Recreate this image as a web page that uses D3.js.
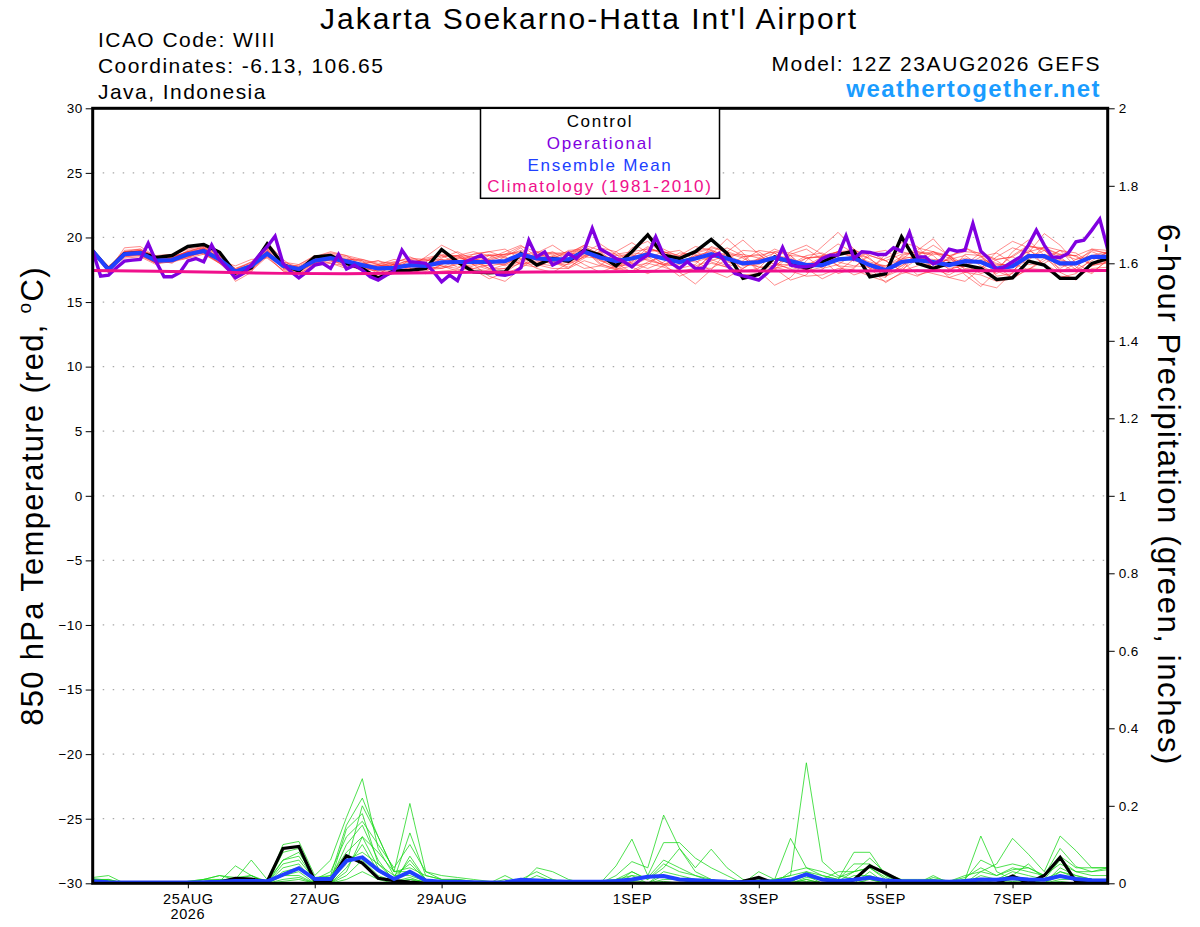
<!DOCTYPE html>
<html>
<head>
<meta charset="utf-8">
<script src="https://d3js.org/d3.v7.min.js"></script>
<style>
  body { margin: 0; background: #fff; }
  text { font-family: "Liberation Sans", Arial, Helvetica, sans-serif; }
</style>
</head>
<body>
<script>
// ---- data (6-hourly from 23AUG2026 12Z unless noted) ----
var startTime = Date.UTC(2026, 7, 23, 12);

var controlTemp = [18.95,17.55,18.75,18.8,18.45, 18.6,19.3,19.45,18.85,17.25, 17.65,19.5,17.9,17.4,18.5,
  18.6,18.0,17.6,16.85,17.4, 17.45,17.6,19.07,18.12,17.34, 17.26,17.34,18.76,17.86,18.37,
  18.17,19.02,18.63,17.8,18.9, 20.2,18.63,18.37,18.9,19.85, 18.76,16.83,17.14,18.5,18.1,
  17.6,18.1,18.68,18.94,16.96, 17.2,20.05,17.99,17.6,17.99, 17.86,17.6,16.75,16.88,18.17,
  17.86,16.83,16.83,17.99,18.37];

var meanTemp = [18.95,17.5,18.7,18.8,18.2, 18.25,18.7,18.95,18.3,17.35, 17.8,18.75,17.8,17.55,18.2,
  18.4,18.15,17.86,17.6,17.65, 17.86,17.8,18.07,18.1,18.1, 18.1,18.17,18.68,18.37,18.3,
  18.3,18.9,18.45,18.17,18.37, 18.68,18.37,18.1,18.37,18.7, 18.37,17.99,18.1,18.43,18.17,
  17.86,17.86,18.3,18.4,17.86, 17.47,18.1,18.25,18.1,17.86, 18.17,18.1,17.6,17.78,18.55,
  18.55,17.99,17.99,18.5,18.5];

// operational run is 3-hourly
var operTemp = [18.94,17.01,17.08,17.65,18.17, 18.25,18.30,19.54,18.12,16.96, 16.96,17.29,18.19,18.37,18.12,
  19.41,18.25,17.60,16.88,17.21, 17.86,18.63,19.28,20.10,17.99, 17.34,16.88,17.34,17.86,17.99,
  17.60,18.68,17.55,17.86,17.47, 16.96,16.70,17.08,17.39,19.02, 18.12,18.07,17.99,17.34,16.57,
  17.08,16.65,18.12,18.37,18.63, 17.99,17.14,17.08,17.21,17.65, 19.79,18.50,18.89,17.86,18.17,
  18.76,18.37,19.02,20.70,19.10, 18.76,18.37,18.12,17.73,18.25, 18.63,20.05,18.63,17.99,17.60,
  18.12,17.60,17.60,18.50,18.76, 17.86,17.21,17.03,16.88,16.70, 17.21,17.86,19.23,17.86,17.73,
  17.73,17.86,18.37,18.63,18.63, 20.13,18.37,18.89,18.84,18.68, 18.68,19.20,18.94,20.39,18.50,
  18.50,17.94,18.25,19.10,18.94, 19.02,21.08,18.94,18.37,17.47, 17.73,18.12,18.50,19.41,20.57,
  19.41,18.50,18.45,18.76,19.66, 19.79,20.57,21.42,19.10];

// climatology, daily (every 4th 6-hour step)
var climTemp = [17.45,17.38,17.30,17.22,17.20,17.25,17.30,17.32,17.34,17.38,17.40,17.40,17.40,17.42,17.43,17.43,17.44];

var memberTemp1 = [19.0,17.3,18.9,19.1,18.4,18.5,18.9,19.3,18.6,17.2,17.6,19.1,17.6,17.3,18.0,18.7,18.5,18.2,17.3,17.4,18.3,18.2,18.6,18.0,17.6,17.9,18.5,19.2,18.0,17.8,18.7,19.4,18.2,17.7,18.1,19.2,18.8,17.6,17.9,19.3,18.9,17.4,17.6,18.9,18.6,17.3,17.5,18.8,19.0,17.2,16.9,18.6,18.9,17.6,17.3,18.7,18.6,17.0,17.2,19.3,19.1,17.4,17.6,19.0,18.8];
var memberTemp2 = [18.9,17.7,18.5,18.6,18.0,18.1,18.6,18.8,18.0,17.5,18.1,18.5,17.9,17.8,18.4,18.2,17.9,17.5,17.8,18.1,17.6,17.4,17.9,18.4,18.5,18.3,17.8,18.3,18.8,18.7,18.0,18.5,18.9,18.6,18.7,18.2,17.9,18.5,18.9,18.3,17.8,18.5,18.7,17.9,17.6,18.4,18.5,17.8,17.7,18.6,18.2,17.4,17.8,18.8,18.6,17.6,17.5,18.3,18.5,17.9,18.0,18.7,18.6,17.8,18.1];
var memberTemp3 = [19.1,17.4,19.2,19.3,18.5,18.2,18.4,19.1,18.5,16.9,17.5,18.6,17.4,17.5,18.5,18.9,18.6,17.8,17.5,17.9,17.7,18.2,18.3,17.7,17.9,18.6,18.7,18.9,18.2,18.1,18.6,19.1,18.3,18.4,18.8,18.7,18.0,17.7,18.8,19.1,18.2,17.6,18.3,18.8,17.8,17.5,18.3,18.9,18.5,17.6,17.4,18.4,18.0,17.9,18.3,18.6,17.8,17.2,18.1,19.0,18.4,17.6,18.3,18.9,18.4];
var memberTemp4 = [18.8,17.6,18.4,18.5,17.9,18.4,18.9,18.7,18.1,17.6,18.0,19.2,18.1,17.7,18.0,18.1,18.3,18.3,17.9,17.5,17.8,17.6,17.7,18.2,18.4,18.0,17.9,18.5,18.6,18.5,18.2,18.6,18.8,18.0,18.0,19.0,18.9,18.3,18.1,18.5,18.8,18.4,17.7,17.8,18.6,18.5,17.6,17.9,18.7,18.4,17.3,17.6,18.9,18.6,17.5,17.9,18.8,18.2,17.4,18.4,19.0,18.5,17.5,18.2,18.9];
var memberTemp5 = [19.2,17.2,18.8,19.0,18.6,18.7,18.5,19.2,18.4,17.0,17.7,19.0,17.7,17.2,17.9,18.6,18.0,17.4,17.1,18.0,18.5,18.0,17.8,17.6,18.2,18.7,18.4,18.0,18.1,18.6,18.9,19.0,17.9,17.6,18.5,19.3,18.6,17.4,17.6,18.6,19.2,18.6,17.3,17.5,18.7,19.1,18.3,17.2,17.6,18.8,19.0,18.2,17.1,17.4,18.5,19.2,18.7,17.4,16.9,18.2,19.3,19.0,17.7,17.2,18.3];
var memberTemp6 = [18.9,17.8,18.6,18.7,18.3,18.0,18.8,19.0,18.2,17.8,18.3,18.4,17.5,17.9,18.6,18.3,17.7,18.0,18.2,17.6,17.3,17.9,18.5,18.6,17.9,17.5,17.9,18.6,18.9,18.2,17.7,18.4,19.2,18.9,18.0,17.6,18.1,18.8,18.7,18.1,17.7,18.2,19.0,18.8,18.0,17.4,17.7,18.6,19.1,18.3,17.6,17.8,18.7,18.9,18.1,17.3,17.6,18.5,19.2,18.8,17.9,17.3,18.0,19.1,18.7];
var memberTemp7 = [19.0,17.5,18.9,18.9,18.1,18.3,19.0,19.2,18.3,17.3,17.9,19.1,18.0,17.4,18.1,18.5,18.4,18.1,17.6,17.4,18.0,18.4,18.7,18.5,18.1,17.6,17.6,18.2,18.5,18.8,18.6,19.3,18.7,17.9,17.8,18.4,18.9,18.4,17.8,18.2,18.6,18.7,18.4,17.9,17.9,18.6,18.8,18.1,17.8,17.7,18.4,18.9,18.6,17.6,17.1,17.8,18.5,18.8,18.0,17.5,18.2,19.0,18.8,17.9,18.0];
var memberTemp8 = [18.8,17.4,18.6,18.9,18.3,18.2,18.5,18.9,18.4,17.4,17.6,18.7,17.8,17.6,18.3,18.2,18.0,17.7,17.9,18.3,18.1,17.7,17.6,18.0,18.7,18.9,18.5,17.9,17.7,18.3,19.0,19.1,18.0,17.5,18.2,18.9,19.1,18.5,17.7,17.6,18.3,19.0,18.9,18.1,17.5,17.8,18.5,18.9,18.6,17.8,17.0,17.5,18.3,18.9,18.6,17.9,17.2,17.6,18.6,19.4,19.0,18.0,17.3,17.8,18.6];
var memberTemp9 = [19.1,17.6,18.7,18.6,18.0,18.5,18.8,19.1,18.2,17.5,17.9,18.9,17.7,17.5,18.0,18.6,18.3,17.9,17.2,17.8,18.3,17.8,18.0,18.4,18.3,18.2,18.6,19.0,18.4,17.9,18.1,18.7,18.6,18.3,18.6,18.5,17.8,17.9,18.6,18.9,18.5,17.8,17.9,18.6,18.4,17.7,17.9,18.4,18.2,17.9,17.8,18.5,18.4,18.2,18.0,18.4,18.1,17.8,18.0,18.7,18.5,17.8,17.9,18.6,18.4];
var memberTemp10 = [18.9,17.5,18.8,18.8,18.2,18.2,18.6,18.9,18.1,17.2,17.8,18.8,17.9,17.7,18.2,18.3,18.1,17.6,17.4,17.6,17.9,17.5,17.6,17.9,18.0,18.3,18.7,18.8,18.3,18.0,17.9,18.5,18.4,18.1,18.4,18.6,18.3,18.0,18.3,18.6,18.1,17.9,18.2,18.3,18.0,18.0,18.1,18.4,18.3,18.0,17.7,18.0,18.4,18.3,18.2,18.1,18.2,17.9,17.9,18.5,18.6,18.2,18.0,18.4,18.5];
var memberTemp11 = [19.0,17.3,18.5,18.7,18.0,18.1,18.4,18.7,18.0,16.9,17.4,18.5,17.4,17.2,17.8,18.0,17.8,17.5,17.0,17.2,17.5,17.2,17.4,17.5,17.6,17.4,17.6,18.0,17.9,17.6,17.6,18.2,17.8,17.5,17.8,18.0,17.7,17.3,17.6,18.0,17.7,17.1,17.2,17.7,17.4,17.0,17.1,17.6,17.5,17.0,16.6,17.2,17.5,17.2,16.9,17.3,17.1,16.6,16.8,17.6,17.5,17.0,16.9,17.6,17.7];
var memberTemp12 = [19.0,17.7,19.0,19.1,18.5,18.6,19.1,19.3,18.6,17.6,18.1,19.2,18.1,17.9,18.5,18.8,18.6,18.3,18.0,18.1,18.4,18.3,18.6,18.6,18.5,18.6,18.7,19.3,18.9,18.8,18.8,19.4,19.0,18.7,18.9,19.1,18.9,18.6,18.9,19.2,18.9,18.5,18.6,18.9,18.8,18.4,18.5,18.9,19.0,18.6,18.2,18.7,18.9,18.7,18.6,18.9,18.8,18.3,18.5,19.3,19.2,18.6,18.6,19.1,19.0];
var memberTemp13 = [18.9,17.6,18.7,18.9,18.2,18.3,18.7,19.0,18.3,17.3,17.8,18.9,17.8,17.6,18.1,18.3,18.2,17.8,17.7,17.9,17.8,18.1,18.9,18.3,17.5,16.8,17.3,18.1,18.6,18.1,17.6,18.6,18.9,18.0,17.3,17.9,18.8,19.0,18.2,17.4,16.9,17.6,18.4,19.1,18.6,17.6,16.8,17.4,18.3,18.9,18.2,17.4,17.0,17.6,18.4,19.2,18.5,17.7,16.9,17.5,18.4,19.0,18.5,17.9,18.2];
var memberTemp14 = [19.0,17.4,18.6,18.8,18.3,18.4,18.8,19.1,18.4,17.5,17.9,18.8,17.9,17.5,18.2,18.5,18.1,17.7,17.5,17.8,18.1,18.3,17.8,17.4,17.8,18.4,18.9,19.4,18.5,18.2,18.4,18.9,18.3,17.6,17.4,18.1,18.6,18.2,18.5,19.0,18.6,18.1,17.7,17.6,17.9,18.4,18.6,18.9,18.4,17.9,17.5,18.3,19.2,18.9,18.4,17.8,17.6,17.4,18.2,18.9,19.2,18.7,18.3,18.6,18.9];
var memberTemp15 = [18.9,17.5,18.8,18.7,18.1,18.2,18.5,18.8,18.2,17.4,17.7,18.7,17.8,17.5,18.3,18.4,18.3,18.2,17.9,17.7,17.6,17.8,18.1,18.6,18.9,18.6,18.1,18.4,18.0,18.5,18.7,18.8,18.2,18.0,18.5,18.3,17.9,18.1,18.6,18.5,18.3,18.1,18.3,18.5,18.1,17.9,18.0,18.2,18.5,18.1,17.8,18.3,18.6,18.1,17.6,17.8,18.3,18.0,17.7,18.4,18.7,18.3,17.9,18.4,18.6];
var memberTemp16 = [19.1,17.6,18.7,18.9,18.2,18.4,18.8,19.0,18.3,17.3,17.8,18.9,17.6,17.4,18.0,18.3,18.1,18.0,17.8,17.9,18.2,17.9,18.3,18.2,18.0,17.8,18.0,18.6,18.5,18.4,18.3,18.9,18.6,18.3,18.4,18.8,18.5,18.1,18.3,18.7,18.4,18.0,18.1,18.5,18.3,17.8,17.9,18.4,18.4,17.9,17.5,18.1,18.3,18.1,17.9,18.2,18.1,17.6,17.8,18.6,18.6,18.0,18.0,18.5,18.5];
var memberTemp17 = [18.8,17.3,18.9,19.0,18.4,18.5,18.9,19.2,18.5,16.6,17.3,19.6,18.3,17.4,18.3,18.6,18.1,17.6,17.4,17.8,17.9,17.6,18.4,18.9,18.3,17.6,17.2,17.7,18.8,19.4,18.6,17.9,17.3,17.8,19.2,19.7,18.7,17.3,16.4,17.5,18.9,19.8,18.7,17.6,16.7,17.1,18.6,19.5,18.8,17.6,16.5,17.3,19.0,19.9,18.5,17.1,16.2,17.4,18.9,19.8,18.6,17.3,16.7,17.9,18.9];
var memberTemp18 = [19.1,17.7,18.6,18.7,18.0,18.3,18.6,18.9,18.0,17.1,17.5,18.6,17.7,17.7,18.4,18.0,17.6,17.9,18.2,17.9,17.5,17.2,17.9,18.5,18.7,18.9,19.1,18.3,17.6,17.3,18.0,18.8,19.5,18.7,17.7,17.2,17.8,18.6,19.3,19.0,17.9,17.0,16.8,17.7,18.9,19.4,18.7,17.8,17.1,17.5,18.7,19.6,19.3,18.0,16.9,16.6,17.6,18.9,19.7,19.2,17.8,16.9,17.2,18.4,18.8];
var memberTemp19 = [18.9,17.5,18.8,19.0,18.3,18.4,18.9,19.1,18.2,17.0,17.6,19.0,17.9,17.3,18.2,18.4,18.0,17.7,17.8,18.0,17.7,18.5,19.4,18.8,17.9,17.0,16.6,17.6,18.5,18.9,18.2,17.6,17.8,18.9,19.6,18.8,17.9,17.0,17.5,18.7,19.9,18.8,17.4,16.3,16.9,18.2,19.3,20.4,19.1,17.8,17.0,17.8,18.6,19.4,18.6,17.5,16.4,16.1,17.3,18.8,20.3,19.4,18.0,17.3,18.2];

var controlPrecip = [.005,.002,0,0,0, 0,0,.002,.003,.013, .011,.004,.09,.095,.007, .007,.071,.052,.013,.007,
  .003,0,0,0,0, 0,0,0,0,0, 0,0,0,0,0, 0,0,0,0,0, 0,.005,.015,0,0, 0,0,0,.009,.045,
  .026,.005,0,0,0, 0,0,0,.019,0, .02,.067,.004,0,0];
var meanPrecip = [.005,.003,.002,.002,.002, .002,.002,.003,.004,.006, .006,.005,.022,.039,.011, .011,.058,.067,.034,.011,
  .03,.007,.004,.004,.003, .002,.003,.009,.007,.005, .004,.004,.004,.006,.01, .017,.019,.01,.008,.006,
  .004,.003,.004,.005,.009, .023,.01,.006,.009,.015, .007,.005,.005,.005,.004, .006,.01,.009,.013,.01,
  .009,.019,.011,.008,.007];

var memberPrecip1 = [.015,.02,0,0,0, 0,0,0,.005,.045, .02,0,.1,.108,.02, .06,.17,.27,.09,.02, .05,.01,0,0,0, 0,0,0,.04,.03, .01,0,0,.02,.056, .04,.176,.09,.03,.01, 0,0,0,.01,.02, .311,.056,.02,.01,0, 0,0,0,0,0, .01,.122,.03,.01,0, 0,.03,.02,.01,.005];
var memberPrecip2 = [.01,.005,0,0,0, 0,0,.005,.01,.01, .06,.01,.09,.095,.005, .01,.05,.2,.12,.03, .206,.03,.02,.015,.01, .005,0,0,.01,0, 0,0,0,.045,.114, .02,.105,.105,.065,.04, .02,0,.03,.01,.116, .04,.02,.01,.08,.08, .02,0,0,.02,0, 0,.03,.05,.116,.075, .03,.122,.084,.04,.04];
var memberPrecip3 = [.008,.01,0,0,0, 0,0,.01,.02,.01, .02,0,.05,.06,.01, .005,.14,.18,.05,.01, .13,.02,.01,.01,.005, 0,0,.01,.03,.01, 0,0,.005,.01,.03, .01,.04,.09,.04,.088, .04,.01,0,0,.01, .02,.01,.03,.03,.065, .026,.01,.01,.01,.005, .02,.03,.02,.04,.03, .02,.09,.043,.03,.04];
var memberPrecip4 = [.005,0,0,0,0, 0,0,0,0,0, .005,0,.08,.09,0, 0,.03,.12,.04,0, .07,.01,.005,.005,0, 0,0,0,0,0, 0,0,0,0,.01, 0,.02,.01,0,0, 0,0,0,0,0, .03,.01,0,0,0, 0,0,0,0,0, 0,0,0,.02,.01, 0,.04,.02,.01,.01];
var memberPrecip5 = [.01,.005,0,0,0, 0,.005,.01,.01,.005, .01,0,.04,.05,0, .01,.1,.15,.06,.005, .01,.005,0,0,0, 0,.02,0,0,0, 0,0,0,0,0, 0,0,0,0,0, 0,.005,0,.01,0, .015,.01,.005,.03,.04, .01,0,0,0,0, 0,.02,.01,.02,.05, .01,.06,.03,.02,.02];
var memberPrecip6 = [.012,.008,0,0,0, 0,0,0,0,0, 0,0,.03,.04,.01, .02,.08,.12,.08,.03, .03,.01,.005,0,0, 0,0,0,.02,.005, 0,0,0,0,.02, 0,.03,.02,.01,0, 0,0,0,0,0, .01,0,0,0,.03, 0,0,0,0,0, .01,.01,0,0,0, 0,.02,.01,.005,0];
var memberPrecip7 = [.006,.003,0,0,0, 0,0,.005,.005,.005, .01,0,.02,.03,0, 0,.04,.1,.03,.01, .06,.01,0,0,0, 0,0,0,0,0, 0,0,0,0,.005, 0,.01,.01,0,0, 0,0,0,0,.005, .02,0,0,.01,.01, 0,0,.005,0,0, 0,.005,.01,.03,.02, .01,.03,.015,.01,.01];
var memberPrecip8 = [.004,.004,0,0,0, 0,0,0,0,.005, .005,0,.02,.02,0, 0,.06,.08,.05,.02, .02,.005,0,0,0, 0,0,0,0,0, 0,0,0,0,0, 0,.005,0,0,0, 0,0,0,0,0, .01,0,0,.02,.02, .005,0,0,0,0, 0,0,0,.01,.01, 0,.01,.01,0,0];
var memberPrecip9 = [.01,.01,0,0,0, 0,.005,.01,.02,.015, .02,.005,.06,.07,.01, .03,.12,.16,.1,.04, .1,.03,.01,.01,.005, 0,.01,0,.01,.01, 0,0,0,0,.03, .01,.05,.03,.02,.01, 0,0,.01,0,.03, .04,.03,.015,.03,.04, .015,0,0,.015,.005, .015,.04,.02,.035,.04, .02,.05,.03,.03,.035];
var memberPrecip10 = [.007,.005,0,0,0, 0,0,0,0,0, 0,0,.01,.015,0, 0,.02,.06,.02,.005, .015,0,0,0,0, 0,0,0,0,0, 0,0,0,0,0, 0,0,0,0,0, 0,0,0,0,0, .005,0,0,0,0, 0,0,0,0,0, 0,0,0,.005,0, 0,.005,0,0,0];
var memberPrecip11 = [.009,.006,0,0,0, 0,0,0,.005,.01, .01,0,.06,.08,.015, .02,.15,.22,.12,.03, .04,.02,.01,0,0, 0,0,0,0,0, 0,0,0,.01,.02, .015,.06,.04,.02,.005, 0,0,.005,.01,.02, .03,.02,.01,.05,.05, .02,.005,0,.01,0, .01,.06,.04,.05,.04, .02,.07,.04,.04,.04];
var memberPrecip12 = [.005,.002,0,0,0, 0,0,0,0,0, 0,0,.005,.01,0, 0,.01,.03,.01,0, .01,0,0,0,0, 0,0,0,0,0, 0,0,0,0,0, 0,0,0,0,0, 0,0,0,0,0, 0,0,0,0,.01, 0,0,0,0,0, 0,0,0,0,0, 0,0,0,0,0];

var tempTicks = [-30,-25,-20,-15,-10,-5,0,5,10,15,20,25,30];
var precipTicks = [0,0.2,0.4,0.6,0.8,1,1.2,1.4,1.6,1.8,2];
var precipTickLabels = ["0","0.2","0.4","0.6","0.8","1","1.2","1.4","1.6","1.8","2"];
var dateTicks = ["2026-08-25","2026-08-27","2026-08-29","2026-09-01","2026-09-03","2026-09-05","2026-09-07"];
var dateTickLabels = ["25AUG","27AUG","29AUG","1SEP","3SEP","5SEP","7SEP"];

var legendItems = ["Control","Operational","Ensemble Mean","Climatology (1981-2010)"];
var legendColors = ["#000000","#8000e0","#2040ff","#f0108c"];

var memberTemps = [memberTemp1,memberTemp2,memberTemp3,memberTemp4,memberTemp5,memberTemp6,memberTemp7,memberTemp8,memberTemp9,
  memberTemp10,memberTemp11,memberTemp12,memberTemp13,memberTemp14,memberTemp15,memberTemp16,memberTemp17,memberTemp18,memberTemp19];
var memberPrecips = [memberPrecip1,memberPrecip2,memberPrecip3,memberPrecip4,memberPrecip5,memberPrecip6,
  memberPrecip7,memberPrecip8,memberPrecip9,memberPrecip10,memberPrecip11,memberPrecip12];

// ---- layout ----
var width = 1200, height = 927;
var plotLeft = 92.7, plotRight = 1107.7, plotTop = 108.3, plotBottom = 883.3;
var hour = 3600 * 1000;

var svg = d3.select("body").append("svg")
  .attr("width", width)
  .attr("height", height)
  .style("display", "block");

svg.append("rect").attr("width", width).attr("height", height).attr("fill", "#fff");

var x = d3.scaleUtc()
  .domain([new Date(startTime), new Date(startTime + 64 * 6 * hour)])
  .range([plotLeft, plotRight]);
var yT = d3.scaleLinear().domain([-30, 30]).range([plotBottom, plotTop]);
var yP = d3.scaleLinear().domain([0, 2]).range([plotBottom, plotTop]);

function t6(i) { return new Date(startTime + i * 6 * hour); }
function t3(i) { return new Date(startTime + i * 3 * hour); }
function t24(i) { return new Date(startTime + i * 24 * hour); }

svg.append("clipPath").attr("id", "clip")
  .append("rect")
  .attr("x", plotLeft).attr("y", plotTop)
  .attr("width", plotRight - plotLeft).attr("height", plotBottom - plotTop);

// grid
svg.append("g").selectAll("line")
  .data(tempTicks.slice(1, -1))
  .enter().append("line")
  .attr("x1", plotLeft).attr("x2", plotRight)
  .attr("y1", function(d){ return yT(d); })
  .attr("y2", function(d){ return yT(d); })
  .attr("stroke", "#a8a8a8")
  .attr("stroke-width", 1.2)
  .attr("stroke-dasharray", "1.5,8.5");

var plot = svg.append("g").attr("clip-path", "url(#clip)");

function drawLine(values, timeFn, yScale, color, w, op) {
  var line = d3.line()
    .x(function(d, i){ return x(timeFn(i)); })
    .y(function(d){ return yScale(d); });
  plot.append("path")
    .datum(values)
    .attr("d", line)
    .attr("fill", "none")
    .attr("stroke", color)
    .attr("stroke-width", w)
    .attr("stroke-opacity", op)
    .attr("stroke-linejoin", "miter");
}

memberTemps.forEach(function(m){ drawLine(m, t6, yT, "#ff2a2a", 0.9, 0.6); });
memberPrecips.forEach(function(m){ drawLine(m, t6, yP, "#18d818", 0.9, 0.85); });

drawLine(controlPrecip, t6, yP, "#000", 3.2, 1);
drawLine(meanPrecip, t6, yP, "#2040ff", 4, 1);

drawLine(controlTemp, t6, yT, "#000", 3.4, 1);
drawLine(meanTemp, t6, yT, "#2040ff", 4.2, 1);
drawLine(operTemp, t3, yT, "#8000e0", 3.4, 1);
drawLine(climTemp, t24, yT, "#f0108c", 3, 1);

// axes
var leftAxis = d3.axisLeft(yT).tickValues(tempTicks).tickSize(7).tickPadding(3);
var gl = svg.append("g").attr("transform", "translate(" + plotLeft + ",0)").call(leftAxis);

var rightAxis = d3.axisRight(yP).tickValues(precipTicks).tickSize(7).tickPadding(4)
  .tickFormat(function(d, i){ return precipTickLabels[i]; });
var gr = svg.append("g").attr("transform", "translate(" + plotRight + ",0)").call(rightAxis);

var bottomAxis = d3.axisBottom(x)
  .tickValues(dateTicks.map(function(d){ return new Date(d + "T00:00:00Z"); }))
  .tickSize(5).tickPadding(5)
  .tickFormat(function(d, i){ return dateTickLabels[i]; });
var gb = svg.append("g").attr("transform", "translate(0," + plotBottom + ")").call(bottomAxis);

[gl, gr, gb].forEach(function(g){
  g.select(".domain").remove();
  g.selectAll(".tick line").attr("stroke", "#000").attr("stroke-width", 1);
  g.selectAll(".tick text").attr("fill", "#000")
    .style("font-family", '"Liberation Sans", Arial, sans-serif');
});
gl.selectAll(".tick text").style("font-size", "13.5px").style("letter-spacing", "0.4px");
gr.selectAll(".tick text").style("font-size", "13.5px").style("letter-spacing", "0.4px");
gb.selectAll(".tick text").style("font-size", "14.5px").style("letter-spacing", "0.6px");

gb.append("text")
  .attr("x", x(new Date("2026-08-25T00:00:00Z")))
  .attr("y", 36)
  .attr("text-anchor", "middle")
  .attr("fill", "#000")
  .style("font-size", "14.5px")
  .style("letter-spacing", "0.6px")
  .text("2026");

// frame
svg.append("rect")
  .attr("x", plotLeft).attr("y", plotTop)
  .attr("width", plotRight - plotLeft).attr("height", plotBottom - plotTop)
  .attr("fill", "none").attr("stroke", "#000").attr("stroke-width", 3);

// legend
svg.append("rect")
  .attr("x", 480.5).attr("y", plotTop)
  .attr("width", 239).attr("height", 90)
  .attr("fill", "#fff").attr("stroke", "#000").attr("stroke-width", 1.5);
svg.append("g").selectAll("text")
  .data(legendItems)
  .enter().append("text")
  .attr("x", 600)
  .attr("y", function(d, i){ return 127 + i * 21.8; })
  .attr("text-anchor", "middle")
  .attr("fill", function(d, i){ return legendColors[i]; })
  .style("font-size", "17px")
  .style("letter-spacing", "1.7px")
  .text(function(d){ return d; });

// titles
svg.append("text").attr("x", 589).attr("y", 29).attr("text-anchor", "middle")
  .style("font-size", "30px").style("letter-spacing", "2px")
  .text("Jakarta Soekarno-Hatta Int'l Airport");

var info = ["ICAO Code: WIII", "Coordinates: -6.13, 106.65", "Java, Indonesia"];
svg.append("g").selectAll("text").data(info).enter().append("text")
  .attr("x", 98).attr("y", function(d, i){ return 47 + i * 26; })
  .style("font-size", "21px").style("letter-spacing", "1.45px")
  .text(function(d){ return d; });

svg.append("text").attr("x", 1101).attr("y", 71).attr("text-anchor", "end")
  .style("font-size", "21px").style("letter-spacing", "1.6px")
  .text("Model: 12Z 23AUG2026 GEFS");
svg.append("text").attr("x", 1101).attr("y", 97).attr("text-anchor", "end")
  .style("font-size", "24px").style("font-weight", "bold").style("letter-spacing", "1.4px")
  .attr("fill", "#1a9cff")
  .text("weathertogether.net");

var lt = svg.append("text")
  .attr("transform", "translate(43,496) rotate(-90)")
  .attr("text-anchor", "middle")
  .style("font-size", "31px")
  .style("letter-spacing", "1.3px");
lt.append("tspan").text("850 hPa Temperature (red, ");
lt.append("tspan").attr("dy", -12).style("font-size", "19px").text("o");
lt.append("tspan").attr("dy", 12).text("C)");

svg.append("text")
  .attr("transform", "translate(1158,495) rotate(90)")
  .attr("text-anchor", "middle")
  .style("font-size", "31px")
  .style("letter-spacing", "1.6px")
  .text("6-hour Precipitation (green, inches)");
</script>
</body>
</html>
